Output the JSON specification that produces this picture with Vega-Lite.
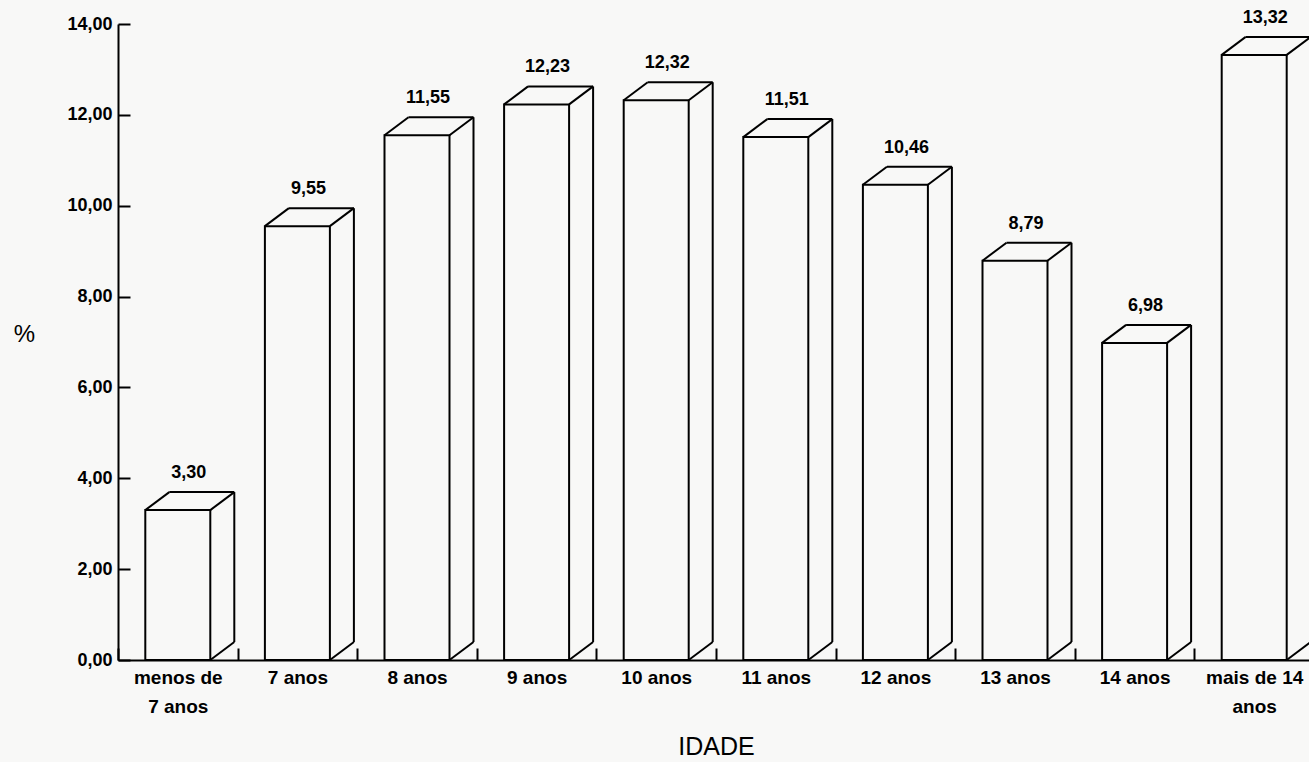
{
  "$schema": "https://vega.github.io/schema/vega-lite/v6.json",
  "width": 1196,
  "height": 636,
  "autosize": {"type": "none"},
  "padding": {"left": 118, "top": 24, "right": 0, "bottom": 102},
  "background": "#f8f8f7",
  "config": {
    "view": {"stroke": null},
    "locale": {"number": {"decimal": ",", "thousands": ".", "grouping": [3], "currency": ["R$", ""]}},
    "font": "Liberation Sans"
  },
  "data": {
    "values": [
      {"idade": "menos de 7 anos", "pct": 3.30},
      {"idade": "7 anos", "pct": 9.55},
      {"idade": "8 anos", "pct": 11.55},
      {"idade": "9 anos", "pct": 12.23},
      {"idade": "10 anos", "pct": 12.32},
      {"idade": "11 anos", "pct": 11.51},
      {"idade": "12 anos", "pct": 10.46},
      {"idade": "13 anos", "pct": 8.79},
      {"idade": "14 anos", "pct": 6.98},
      {"idade": "mais de 14 anos", "pct": 13.32}
    ]
  },
  "encoding": {
    "x": {
      "field": "idade", "type": "nominal", "sort": null,
      "scale": {"paddingInner": 0, "paddingOuter": 0},
      "axis": {
        "title": "IDADE", "titleFont": "Liberation Sans", "titleFontSize": 25, "titleFontWeight": "normal", "titleColor": "#000",
        "titleY": 86, "titleBaseline": "middle",
        "labelAngle": 0, "labelFontSize": 19, "labelFontWeight": "bold", "labelColor": "#000",
        "labelPadding": 20, "labelLineHeight": 29, "labelBaseline": "top",
        "labelExpr": "datum.value == 'menos de 7 anos' ? ['menos de', '7 anos'] : datum.value == 'mais de 14 anos' ? ['mais de 14', 'anos'] : datum.value",
        "tickBand": "extent", "tickSize": -12, "tickWidth": 2, "tickColor": "#000",
        "domainColor": "#000", "domainWidth": 2, "grid": false
      }
    },
    "y": {
      "field": "pct", "type": "quantitative",
      "scale": {"domain": [0, 14], "nice": false},
      "axis": {
        "title": "%", "titleAngle": 0, "titleX": -94, "titleY": 310, "titleAlign": "center", "titleBaseline": "middle",
        "titleFontSize": 24, "titleFontWeight": "normal", "titleColor": "#000",
        "values": [0, 2, 4, 6, 8, 10, 12, 14], "format": ".2f",
        "labelFontSize": 18, "labelFontWeight": "bold", "labelColor": "#000", "labelPadding": 18,
        "tickSize": -12, "tickWidth": 2, "tickColor": "#000",
        "domainColor": "#000", "domainWidth": 2, "grid": false
      }
    }
  },
  "layer": [
    {
      "mark": {"type": "bar", "fill": "#f8f8f7", "stroke": "#000", "strokeWidth": 2, "width": 65}
    },
    {
      "mark": {"type": "rule", "color": "#000", "strokeWidth": 2, "xOffset": -32.5, "x2Offset": -8.5, "y2Offset": -18},
      "encoding": {"x2": {"field": "idade"}, "y2": {"field": "pct"}}
    },
    {
      "mark": {"type": "rule", "color": "#000", "strokeWidth": 2, "xOffset": -8.5, "x2Offset": 56.5, "yOffset": -18, "y2Offset": -18},
      "encoding": {"x2": {"field": "idade"}, "y2": {"field": "pct"}}
    },
    {
      "mark": {"type": "rule", "color": "#000", "strokeWidth": 2, "xOffset": 32.5, "x2Offset": 56.5, "y2Offset": -18},
      "encoding": {"x2": {"field": "idade"}, "y2": {"field": "pct"}}
    },
    {
      "mark": {"type": "rule", "color": "#000", "strokeWidth": 2, "xOffset": 56.5, "x2Offset": 56.5, "yOffset": -18, "y2Offset": -18},
      "encoding": {"x2": {"field": "idade"}, "y2": {"datum": 0}}
    },
    {
      "mark": {"type": "rule", "color": "#000", "strokeWidth": 2, "xOffset": 32.5, "x2Offset": 56.5, "y2Offset": -18},
      "encoding": {"y": {"datum": 0}, "x2": {"field": "idade"}, "y2": {"datum": 0}}
    },
    {
      "mark": {"type": "text", "fontSize": 18, "fontWeight": "bold", "color": "#000", "dx": 11, "dy": -37, "baseline": "middle"},
      "encoding": {"text": {"field": "pct", "type": "quantitative", "format": ".2f"}}
    }
  ]
}
